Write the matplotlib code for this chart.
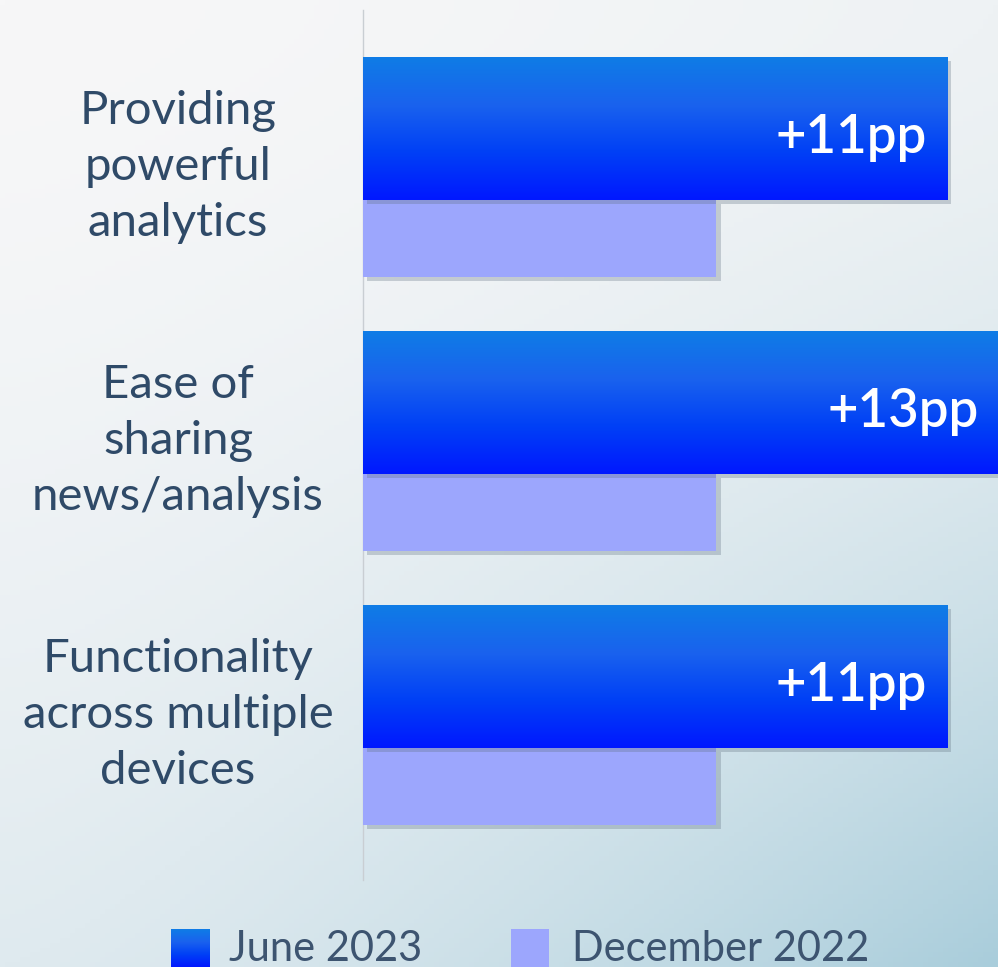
import numpy as np
import matplotlib
matplotlib.use("Agg")
import matplotlib.pyplot as plt
import matplotlib.patheffects as pe
from matplotlib.colors import LinearSegmentedColormap, to_rgb

# Data (values estimated, no axis scale shown)
categories = ["Providing\npowerful\nanalytics",
              "Ease of\nsharing\nnews/analysis",
              "Functionality\nacross multiple\ndevices"]
june_2023 = [28.1, 30.6, 28.1]
dec_2022 = [17.0, 17.0, 17.0]
change_labels = ["+11pp", "+13pp", "+11pp"]
series_names = ["June 2023", "December 2022"]

text_color = "#2f4a68"
dec_color = "#9ca6fd"
blue_cmap = LinearSegmentedColormap.from_list(
    "bluebar", ["#0f7ce6", "#1a62ee", "#0040f6", "#0018ff"])

fig = plt.figure(figsize=(9.98, 9.67), dpi=100)

# background gradient (light grey top, pale blue towards bottom right)
bg = fig.add_axes([0, 0, 1, 1], zorder=-10)
gx, gy = np.meshgrid(np.linspace(0, 1, 200), np.linspace(0, 1, 200))
tl, tr = np.array(to_rgb("#f7f7f8")), np.array(to_rgb("#eef2f4"))
bl, br = np.array(to_rgb("#dfeaef")), np.array(to_rgb("#a9cddb"))
wy = gy[..., None] ** 1.6
wx = gx[..., None] ** 1.4
img = (tl * (1 - wx) + tr * wx) * (1 - wy) + (bl * (1 - wx) + br * wx) * wy
bg.imshow(img, extent=[0, 1, 0, 1], aspect="auto", origin="upper")
bg.axis("off")

ax = fig.add_axes([363 / 998, 87 / 967, 635 / 998, 870 / 967])
ax.patch.set_alpha(0)

y = np.arange(len(categories))
june_h = 143 / 274
dec_h = 77 / 274
june_bars = ax.barh(y - june_h / 2, june_2023, height=june_h, color="#0030f8",
                    zorder=3)
dec_bars = ax.barh(y + dec_h / 2, dec_2022, height=dec_h, color=dec_color,
                   zorder=2)

shadow = [pe.SimplePatchShadow(offset=(3, -3), shadow_rgbFace="#607080",
                               alpha=0.3), pe.Normal()]
for b in list(june_bars) + list(dec_bars):
    b.set_path_effects(shadow)

# vertical gradient inside the June bars
grad = np.linspace(0, 1, 100).reshape(-1, 1)
for b in june_bars:
    x0, y0, w, h = b.get_x(), b.get_y(), b.get_width(), b.get_height()
    im = ax.imshow(grad, cmap=blue_cmap, aspect="auto", origin="upper",
                   extent=[x0, x0 + w, y0 + h, y0], zorder=3.5)
    im.set_clip_path(b)

for b, lab in zip(june_bars, change_labels):
    ax.annotate(lab, xy=(b.get_width(), b.get_y() + b.get_height() / 2),
                xytext=(-20, -9), textcoords="offset pixels", ha="right",
                va="center", color="white", fontsize=38, family="Lato",
                fontweight="semibold", zorder=5, annotation_clip=False)

for yi, cat in zip(y, categories):
    ax.text(-185 / 635, yi - 33 / 274, cat, transform=ax.get_yaxis_transform(),
            ha="center", va="center", fontsize=34, family="Lato",
            color=text_color, linespacing=1.42)

ax.set_xlim(0, 30.55)
ax.set_ylim((880 - 200) / 274, (10 - 200) / 274)
ax.set_xticks([])
ax.set_yticks([])
for s in ["top", "right", "bottom"]:
    ax.spines[s].set_visible(False)
ax.spines["left"].set_color("#c9ced3")
ax.spines["left"].set_linewidth(1)
ax.spines["left"].set_zorder(1)

# legend along the bottom edge
sq1 = fig.add_axes([171 / 998, 0, 39 / 998, 38 / 967])
sq1.imshow(grad, cmap=blue_cmap, aspect="auto")
sq1.axis("off")
sq2 = fig.add_axes([511 / 998, 0, 38 / 998, 38 / 967])
sq2.set_facecolor(dec_color)
sq2.set_xticks([])
sq2.set_yticks([])
for s in sq2.spines.values():
    s.set_visible(False)
fig.text(229 / 998, 6 / 967, series_names[0], fontsize=30, family="Lato",
         color="#3d5470", va="baseline")
fig.text(572 / 998, 6 / 967, series_names[1], fontsize=30, family="Lato",
         color="#3d5470", va="baseline")

fig.savefig("out.png", dpi=100)
